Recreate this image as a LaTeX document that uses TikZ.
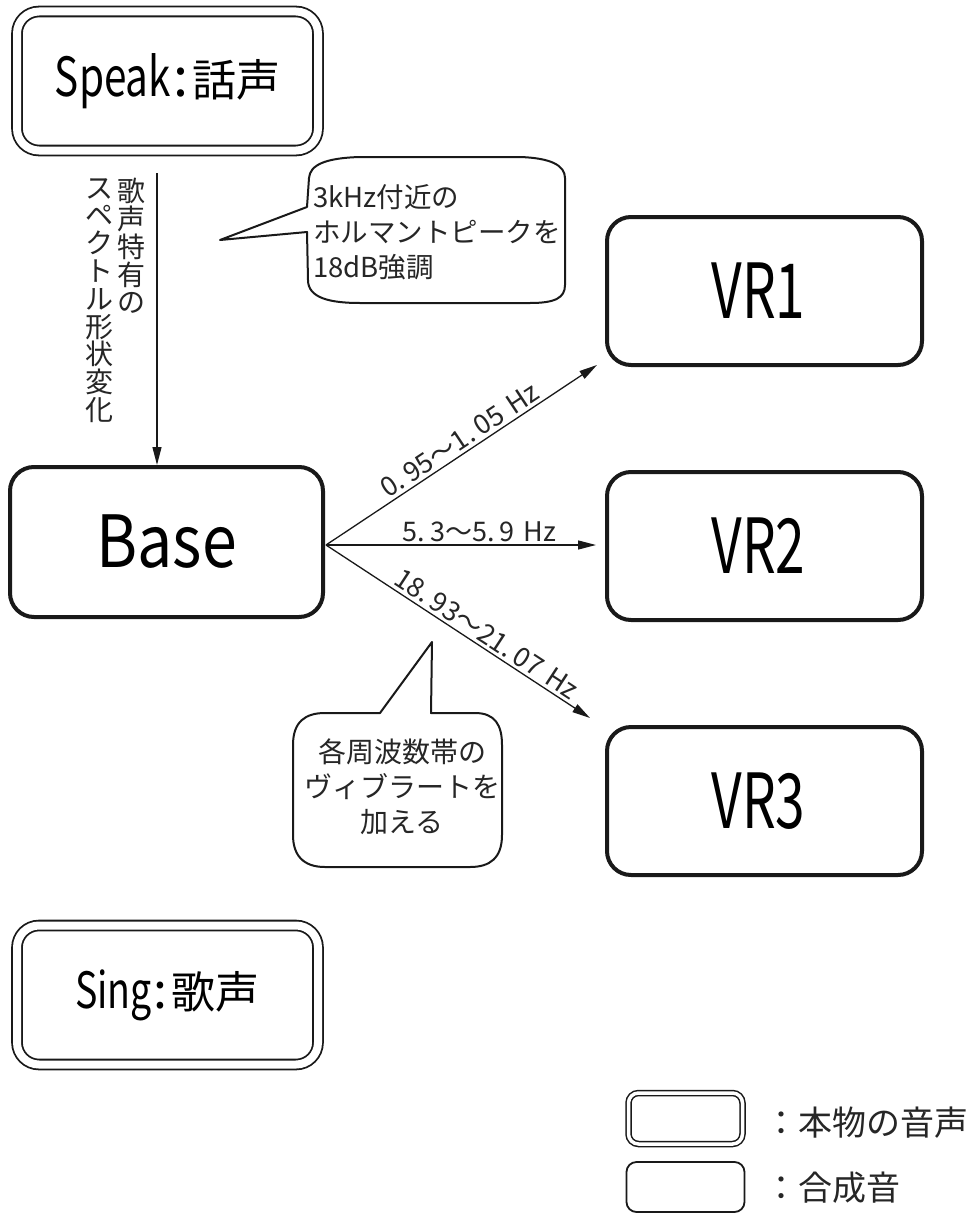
\documentclass[tikz,border=0pt]{standalone}
\usepackage{fontspec}
\setmainfont{Noto Sans CJK JP}
\usepackage{graphicx}
\usetikzlibrary{arrows.meta}
\newcommand{\nar}[1]{\scalebox{0.75}[1]{#1}}
\newcommand{\pd}{.\kern5pt}
\newcommand{\hzsp}{\kern9pt}
\begin{document}
\begin{tikzpicture}[x=1pt,y=-1pt,
  synth/.style={draw=black!90, line width=4pt, rounded corners=24pt, inner sep=0pt, minimum width=315pt, minimum height=148pt},
  real/.style={draw=black!90, line width=1.8pt, double=white, double distance=8pt, rounded corners=22pt, inner sep=0pt, minimum width=301pt, minimum height=139pt},
  arr/.style={-{Triangle[length=18pt,width=9pt]}, line width=1.3pt, draw=black!90},
  lbl/.style={font=\fontsize{27}{30}\selectfont, inner sep=3pt, text=black!85},
  callout/.style={draw=black!90, line width=2pt, line join=round},
  ctext/.style={font=\fontsize{27.5}{35}\selectfont, inner sep=0pt, text=black!85},
  vtext/.style={font=\fontsize{28}{27.8}\selectfont, inner sep=0pt, align=center, anchor=north, text=black!85}
]
\fill[white] (0,0) rectangle (977,1215);
\useasboundingbox (0,0) rectangle (977,1215);

% real voices
\node[real] (speak) at (167.5,81) {{\fontsize{54}{60}\selectfont\nar{Speak}\kern2pt:\kern4pt}{\fontsize{44}{50}\selectfont 話声}};
\node[real] (sing) at (167.5,995) {{\fontsize{50}{60}\selectfont\nar{Sing}\kern2pt:\kern4pt}{\fontsize{44}{50}\selectfont 歌声}};

% synthesized
\node[synth, minimum width=313pt, minimum height=150pt] (base) at (166.5,542) {\fontsize{72}{80}\selectfont\scalebox{0.87}[1]{Base}};
\node[synth] (vr1) at (764.5,291) {\fontsize{76}{80}\selectfont\scalebox{0.7}[1]{VR1}\kern12pt};
\node[synth] (vr2) at (764.5,546) {\fontsize{76}{80}\selectfont\scalebox{0.7}[1]{VR2}\kern12pt};
\node[synth] (vr3) at (764.5,801) {\fontsize{76}{80}\selectfont\scalebox{0.7}[1]{VR3}\kern12pt};

% speak -> base
\coordinate (a0) at (157,173);
\draw[arr] (a0) -- (a0 |- base.north);
\node[vtext] (v1) at (131,178) {歌\\声\\特\\有\\の};
\node[vtext] (v2) at (99,178) {ス\\ペ\\ク\\ト\\ル\\形\\状\\変\\化};

% base -> VR
\coordinate (b0) at (326,545);
\coordinate (t1) at (597,365);
\coordinate (t3) at (590,718);
\draw[arr] (b0) -- node[lbl, sloped, above, pos=0.52] (l1) {0\pd 95〜1\pd 05\hzsp Hz} (t1);
\draw[arr, shorten >=9pt] (b0) -- node[lbl, above, pos=0.55] (l2) {5\pd 3〜5\pd 9\hzsp Hz} (b0 -| vr2.west);
\draw[arr] (b0) -- node[lbl, sloped, above, pos=0.58] (l3) {18\pd 93〜21\pd 07\hzsp Hz} (t3);

% callout 1
\draw[callout] (307,207) -- (220,240) -- (307,232) -- (308,280)
  .. controls (308,298) and (330,303) .. (360,303) -- (530,303)
  .. controls (555,303) and (565,298) .. (565,285) -- (565,178)
  .. controls (565,165) and (550,158) .. (520,157) -- (360,157)
  .. controls (325,158) and (310,165) .. (309,178) -- cycle;
\node[ctext, anchor=north west, align=left] (c1) at (313,184) {3kHz付近の\\ホルマントピークを\\18dB強調};

% callout 2
\draw[callout] (380,713) -- (432,642) -- (431,713) -- (475,713)
  .. controls (495,713) and (502,725) .. (502,745) -- (502,835)
  .. controls (502,858) and (490,867) .. (470,867) -- (325,867)
  .. controls (303,867) and (293,855) .. (293,835) -- (293,745)
  .. controls (293,722) and (305,713) .. (325,713) -- cycle;
\node[ctext, align=center, font=\fontsize{28}{35}\selectfont] (c2) at (402,787) {各周波数帯の\\ヴィブラートを\\加える};

% legend
\node[draw=black!90, line width=1.5pt, double=white, double distance=3.5pt, rounded corners=10pt, minimum width=114pt, minimum height=51pt, inner sep=0pt] (lg1) at (685.5,1118.5) {};
\node[draw=black!90, line width=1.8pt, rounded corners=10pt, minimum width=118pt, minimum height=50pt, inner sep=0pt] (lg2) at (685.5,1187) {};
\node[anchor=west, font=\fontsize{34}{40}\selectfont, inner sep=0pt, text=black!85] (lt1) at (764,1123) {：本物の音声};
\node[anchor=west, font=\fontsize{34}{40}\selectfont, inner sep=0pt, text=black!85] (lt2) at (764,1188) {：合成音};
\end{tikzpicture}
\end{document}
